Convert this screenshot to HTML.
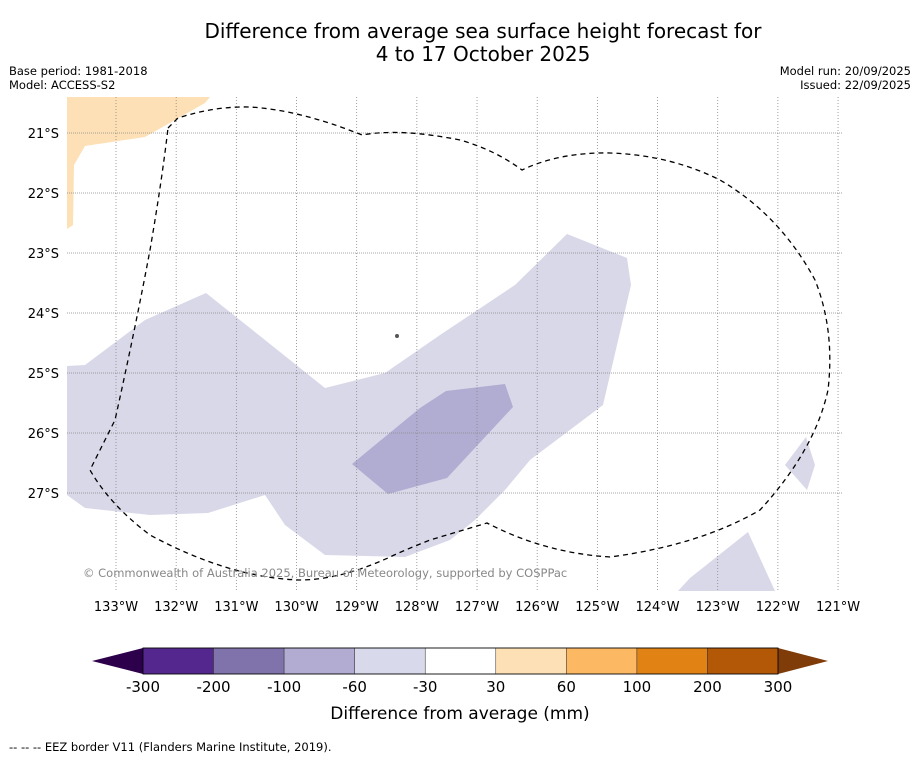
<!DOCTYPE html>
<html><head><meta charset="utf-8"><style>
html,body{margin:0;padding:0;background:#fff;}
body{width:919px;height:758px;overflow:hidden;font-family:"Liberation Sans","DejaVu Sans",sans-serif;}
</style></head><body>
<svg id="chart" width="919" height="758" xmlns="http://www.w3.org/2000/svg" font-family="DejaVu Sans, Liberation Sans, sans-serif">
<text x="483" y="38" font-size="20" text-anchor="middle">Difference from average sea surface height forecast for</text>
<text x="483" y="61" font-size="20" text-anchor="middle">4 to 17 October 2025</text>
<text x="9" y="75" font-size="11.5">Base period: 1981-2018</text>
<text x="9" y="89" font-size="11.5">Model: ACCESS-S2</text>
<text x="911" y="75" font-size="11.5" text-anchor="end">Model run: 20/09/2025</text>
<text x="911" y="89" font-size="11.5" text-anchor="end">Issued: 22/09/2025</text>
<defs><clipPath id="mapclip"><rect x="67" y="97" width="776" height="494"/></clipPath></defs>
<g id="map" clip-path="url(#mapclip)">
<polygon fill="#fde0b5" points="67,97 210,97 205,103 145,137 85,146 74,165 73,225 67,229"/>
<polygon fill="#d8d8e9" points="67,366 85,365 145,320 206,293 265,340 325,388 385,373 440,335 515,285 567,234 627,258 631,285 603,405 530,460 505,490 475,520 450,540 405,557 325,555 285,525 265,495 208,513 150,515 85,508 67,495"/>
<polygon fill="#b1acd1" points="352,464 388,494 447,478 513,407 505,384 446,391 420,408"/>
<polygon fill="#d8d8e9" points="785,465 806,437 815,465 807,490"/>
<polygon fill="#d8d8e9" points="678,591 690,578 748,532 775,591"/>
<g id="grid"></g>
<path fill="none" stroke="#000" stroke-width="1.3" stroke-dasharray="5,4" d="M168,128 L178,118 Q215,106 250,107 Q300,110 362,135 Q400,128 460,140 Q495,150 522,170 Q560,152 610,153 Q670,155 720,180 Q780,215 815,280 Q835,330 828,390 Q815,450 760,510 Q700,545 610,557 Q545,553 487,523 L430,540 Q400,552 390,557 Q340,580 300,580 Q230,578 150,535 Q110,505 90,470 L115,420 Q135,330 150,250 Q162,180 168,128 Z"/>
<circle cx="397" cy="336" r="2" fill="#555"/>
</g>
<text x="83" y="577" font-size="11.5" fill="#888">© Commonwealth of Australia 2025, Bureau of Meteorology, supported by COSPPac</text>
<g id="axes"></g>
<g id="colorbar"></g>
<text x="460" y="719" font-size="17" text-anchor="middle">Difference from average (mm)</text>
<text x="9" y="751" font-size="11.5">--  --  -- EEZ border V11 (Flanders Marine Institute, 2019).</text>
</svg>
<script>
const lonTicks=[133,132,131,130,129,128,127,126,125,124,123,122,121];
const latTicks=[21,22,23,24,25,26,27];
const cbLabels=["-300","-200","-100","-60","-30","30","60","100","200","300"];
const cbColors=["#54278f","#8073ac","#b2abd2","#d8daeb","#ffffff","#fee0b6","#fdb863","#e08214","#b35806"];
const NS="http://www.w3.org/2000/svg";
function xLon(l){return 116+(133-l)*60.17;}
function yLat(l){return 133+(l-21)*60;}
function mk(tag,attrs,parent){const e=document.createElementNS(NS,tag);for(const k in attrs)e.setAttribute(k,attrs[k]);parent.appendChild(e);return e;}
const grid=document.getElementById('grid'),axes=document.getElementById('axes'),cb=document.getElementById('colorbar');
lonTicks.forEach(l=>{const x=xLon(l);
 const ln=mk('line',{x1:x,x2:x,y1:97,y2:591,stroke:'#888','stroke-width':0.8,'stroke-dasharray':'1,2'},grid);
 
 
 const t=mk('text',{x:x,y:611,'font-size':13,'text-anchor':'middle'},axes);t.textContent=l+'°W';
 
 });
latTicks.forEach(l=>{const y=yLat(l);
 const ln=mk('line',{x1:67,x2:843,y1:y,y2:y,stroke:'#888','stroke-width':0.8,'stroke-dasharray':'1,1'},grid);
 
 
 const t=mk('text',{x:59,y:y+5,'font-size':13,'text-anchor':'end'},axes);t.textContent=l+'°S';
 
 });
const cx0=143,cx1=778,cy=648,ch=26,bw=(cx1-cx0)/cbColors.length;
const lt=mk('polygon',{points:`${cx0},${cy} ${cx0},${cy+ch} 92,${cy+ch/2}`,fill:'#2d004b'},cb);


const rt=mk('polygon',{points:`${cx1},${cy} ${cx1},${cy+ch} 828,${cy+ch/2}`,fill:'#7f3b08'},cb);


cbColors.forEach((c,i)=>{const r=mk('rect',{x:cx0+i*bw,y:cy,width:bw,height:ch,fill:c,stroke:'#333','stroke-width':0.5},cb);
 
 });
mk('rect',{x:cx0,y:cy,width:cx1-cx0,height:ch,fill:'none',stroke:'#000','stroke-width':0.8},cb);
cbLabels.forEach((s,i)=>{const t=mk('text',{x:cx0+i*bw,y:692,'font-size':15,'text-anchor':'middle'},cb);t.textContent=s;
 
 });
</script>
</body></html>
